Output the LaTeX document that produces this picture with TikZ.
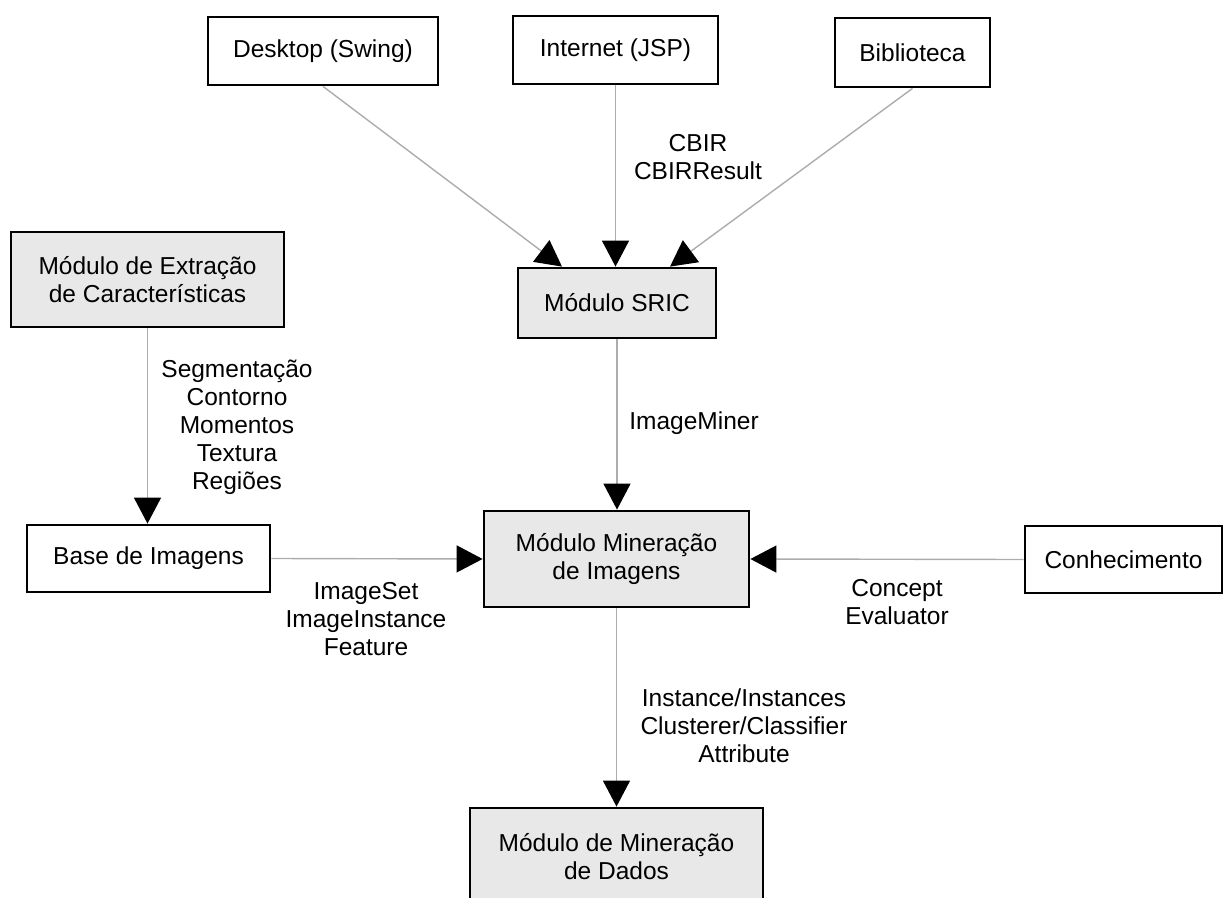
\documentclass[tikz,border=0pt]{standalone}
\usepackage{fontspec}
\setmainfont{Liberation Sans}
\usetikzlibrary{arrows.meta,calc}
\tikzset{
  box/.style={draw=black, line width=1.4pt, fill=white, inner sep=0pt, align=center,
              font=\fontsize{12.25pt}{14pt}\selectfont},
  modbox/.style={box, fill=gray!18},
  lbl/.style={inner sep=0pt, align=center, font=\fontsize{12.25pt}{14pt}\selectfont},
  conn/.style={draw=gray!65, line width=0.7pt,
               -{Triangle[length=13pt,width=13.5pt,color=black]}}
}
\begin{document}
\begin{tikzpicture}[x=0.5pt,y=-0.5pt]
\useasboundingbox (0,0) rectangle (1226,898);
% top row
\node[box, minimum width=115pt, minimum height=34pt] (desk) at (323,51) {Desktop (Swing)};
\node[box, minimum width=102.5pt, minimum height=34pt] (inet) at (615.5,50) {Internet (JSP)};
\node[box, minimum width=77.5pt, minimum height=34.5pt] (bib) at (912.5,52.5) {Biblioteca};
% modules
\node[modbox, minimum width=136.5pt, minimum height=47.5pt] (extr) at (147.5,279.5) {Módulo de Extração\\de Características};
\node[modbox, minimum width=99pt, minimum height=35pt] (sric) at (617,303) {Módulo SRIC};
\node[box, minimum width=121.5pt, minimum height=33.5pt] (base) at (148.5,558.5) {Base de Imagens};
\node[modbox, minimum width=132.5pt, minimum height=48pt] (minimg) at (616.5,559) {Módulo Mineração\\de Imagens};
\node[box, minimum width=98.5pt, minimum height=33.5pt] (conh) at (1123.5,559.5) {Conhecimento};
\node[modbox, minimum width=146.5pt, minimum height=48.5pt] (mdados) at (616.5,856.5) {Módulo de Mineração\\de Dados};
% connectors
\draw[conn] (desk.south) -- ([xshift=-27.5pt]sric.north);
\draw[conn] (inet.south) -- (inet.south |- sric.north);
\draw[conn] (bib.south) -- ([xshift=26.5pt]sric.north);
\draw[conn] (sric.south) -- (sric.south |- minimg.north);
\draw[conn] (extr.south) -- (extr.south |- base.north);
\draw[conn] (base.east) -- (minimg.west);
\draw[conn] (conh.west) -- (minimg.east);
\draw[conn] (minimg.south) -- (minimg.south |- mdados.north);
% labels
\node[lbl] (lcbir) at (698,157.5) {CBIR\\CBIRResult};
\node[lbl] (lsegm) at (237,427.5) {Segmentação\\Contorno\\Momentos\\Textura\\Regiões};
\node[lbl, anchor=west] (lim) at (629,423) {ImageMiner};
\node[lbl] (lset) at (366,619.5) {ImageSet\\ImageInstance\\Feature};
\node[lbl] (lconc) at (897,602.5) {Concept\\Evaluator};
\node[lbl] (linst) at (744,726) {Instance/Instances\\Clusterer/Classifier\\Attribute};
\end{tikzpicture}
\end{document}
